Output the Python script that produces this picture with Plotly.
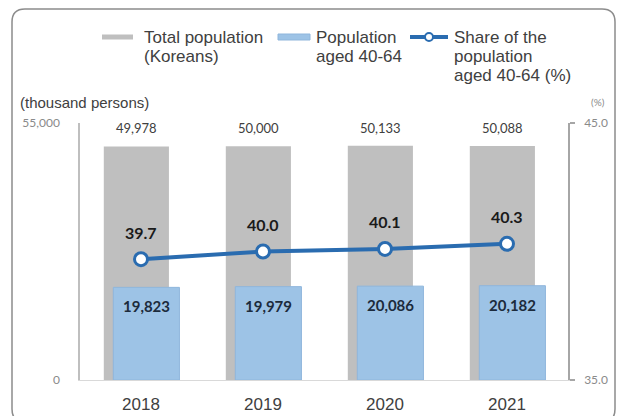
import plotly.graph_objects as go

# ---- data -------------------------------------------------------------
years = ["2018", "2019", "2020", "2021"]
total_population = [49978, 50000, 50133, 50088]      # thousand persons
population_40_64 = [19823, 19979, 20086, 20182]      # thousand persons
share_40_64 = [39.7, 40.0, 40.1, 40.3]               # %

left_ticks = [0, 55000]
right_ticks = [35.0, 45.0]

# ---- styling ----------------------------------------------------------
W, H = 618, 416
M_L, M_R, M_T, M_B = 80, 50, 123, 36
PLOT_W = W - M_L - M_R
PLOT_H = H - M_T - M_B

GRAY = "#bfbfbf"
BLUE_BAR = "#9dc3e6"
BLUE_EDGE = "#8fb6dc"
LINE_BLUE = "#2a6cb0"
TEXT = "#404040"
AXIS_TEXT = "#8a8a8a"
SANS = "Liberation Sans, Arial, sans-serif"
NUM = "Lato, Open Sans, sans-serif"

GRAY_OFF, GRAY_W = -0.305, 0.534
BLUE_OFF, BLUE_W = -0.227, 0.542


def px(x):
    return (x - M_L) / PLOT_W


def py(y):
    return (H - M_B - y) / PLOT_H


xpos = list(range(len(years)))

fig = go.Figure()

fig.add_trace(go.Bar(
    x=xpos, y=total_population, name="Total population (Koreans)",
    offset=GRAY_OFF, width=GRAY_W, marker=dict(color=GRAY, line=dict(width=0)),
    hoverinfo="skip",
))
fig.add_trace(go.Bar(
    x=xpos, y=population_40_64, name="Population aged 40-64",
    offset=BLUE_OFF, width=BLUE_W,
    marker=dict(color=BLUE_BAR, line=dict(color=BLUE_EDGE, width=1)),
    hoverinfo="skip",
))
fig.add_trace(go.Scatter(
    x=xpos, y=share_40_64, yaxis="y2", mode="lines+markers",
    name="Share of the population aged 40-64 (%)",
    line=dict(color=LINE_BLUE, width=4),
    marker=dict(symbol="circle", size=13, color="white",
                line=dict(color=LINE_BLUE, width=3)),
    hoverinfo="skip",
))

annotations = []
# value labels
for i, v in enumerate(total_population):
    annotations.append(dict(
        x=i + GRAY_OFF + GRAY_W / 2, y=v, xref="x", yref="y",
        text=f"{v:,}", showarrow=False, yanchor="middle", yshift=18,
        font=dict(family=NUM, size=13, color=TEXT)))
for i, v in enumerate(population_40_64):
    annotations.append(dict(
        x=i + BLUE_OFF + BLUE_W / 2, y=v, xref="x", yref="y",
        text=f"<b>{v:,}</b>", showarrow=False, yanchor="middle", yshift=-19,
        font=dict(family=NUM, size=15, color="#1c2b3c")))
for i, v in enumerate(share_40_64):
    annotations.append(dict(
        x=i, y=v, xref="x", yref="y2",
        text=f"<b>{v:.1f}</b>", showarrow=False, yanchor="middle", yshift=27,
        font=dict(family=NUM, size=16, color="#1a1a1a")))

# axis unit captions
annotations.append(dict(
    x=px(18), y=py(102), xref="paper", yref="paper", xanchor="left",
    yanchor="middle", text="(thousand persons)", showarrow=False,
    font=dict(family=SANS, size=15, color=TEXT)))
annotations.append(dict(
    x=px(598), y=py(102), xref="paper", yref="paper", xanchor="center",
    yanchor="middle", text="(%)", showarrow=False,
    font=dict(family=NUM, size=10, color=AXIS_TEXT)))

# legend text
def legend_lines(x0, lines):
    for k, t in enumerate(lines):
        annotations.append(dict(
            x=px(x0), y=py(37 + 19 * k), xref="paper", yref="paper",
            xanchor="left", yanchor="middle", text=t, showarrow=False,
            font=dict(family=SANS, size=17, color=TEXT)))


legend_lines(142, ["Total population", "(Koreans)"])
legend_lines(314, ["Population", "aged 40-64"])
legend_lines(452, ["Share of the", "population", "aged 40-64 (%)"])

shapes = []
# legend swatches
shapes.append(dict(type="rect", xref="paper", yref="paper",
                   x0=px(102), x1=px(133), y0=py(34.5), y1=py(39.5),
                   fillcolor=GRAY, line=dict(width=0)))
shapes.append(dict(type="rect", xref="paper", yref="paper",
                   x0=px(278), x1=px(310), y0=py(34), y1=py(40),
                   fillcolor=BLUE_BAR, line=dict(color=BLUE_EDGE, width=1)))
shapes.append(dict(type="line", xref="paper", yref="paper",
                   x0=px(410), x1=px(448), y0=py(37), y1=py(37),
                   line=dict(color=LINE_BLUE, width=4)))
shapes.append(dict(type="circle", xref="paper", yref="paper",
                   x0=px(425), x1=px(433), y0=py(33), y1=py(41),
                   fillcolor="white", line=dict(color=LINE_BLUE, width=2)))

# rounded outer frame
fx0, fy0, fx1, fy1, r = 12, 9, 615, 422, 13
frame = (
    f"M {px(fx0)},{py(fy0 + r)} "
    f"Q {px(fx0)},{py(fy0)} {px(fx0 + r)},{py(fy0)} "
    f"L {px(fx1 - r)},{py(fy0)} "
    f"Q {px(fx1)},{py(fy0)} {px(fx1)},{py(fy0 + r)} "
    f"L {px(fx1)},{py(fy1 - r)} "
    f"Q {px(fx1)},{py(fy1)} {px(fx1 - r)},{py(fy1)} "
    f"L {px(fx0 + r)},{py(fy1)} "
    f"Q {px(fx0)},{py(fy1)} {px(fx0)},{py(fy1 - r)} Z"
)
shapes.append(dict(type="path", xref="paper", yref="paper", path=frame,
                   line=dict(color="#8c8c8c", width=1.5), layer="below"))

fig.update_layout(
    width=W, height=H,
    margin=dict(l=M_L, r=M_R, t=M_T, b=M_B, pad=0, autoexpand=False),
    paper_bgcolor="white", plot_bgcolor="white",
    barmode="overlay", showlegend=False,
    xaxis=dict(
        range=[-0.5, 3.5], tickvals=xpos, ticktext=years,
        showgrid=False, zeroline=False, showline=True, automargin=False,
        linecolor="#d9d9d9", linewidth=1, ticks="",
        ticklabelstandoff=9,
        tickfont=dict(family=SANS, size=17, color=TEXT),
    ),
    yaxis=dict(
        range=[0, 55000], tickvals=left_ticks, tickformat=",",
        showgrid=False, zeroline=False, showline=True, automargin=False,
        linecolor="#bfbfbf", linewidth=1.5, ticks="",
        ticklabelstandoff=16,
        tickfont=dict(family=NUM, size=12, color=AXIS_TEXT),
    ),
    yaxis2=dict(
        range=[35, 45], tickvals=right_ticks, tickformat=".1f",
        overlaying="y", side="right", automargin=False,
        showgrid=False, zeroline=False, showline=True,
        linecolor="#a6a6a6", linewidth=1.5,
        ticks="outside", ticklen=5, tickcolor="#a6a6a6", tickwidth=1.5,
        ticklabelstandoff=7,
        tickfont=dict(family=NUM, size=12, color=AXIS_TEXT),
    ),
    annotations=annotations,
    shapes=shapes,
)

fig.write_html("out.html")
